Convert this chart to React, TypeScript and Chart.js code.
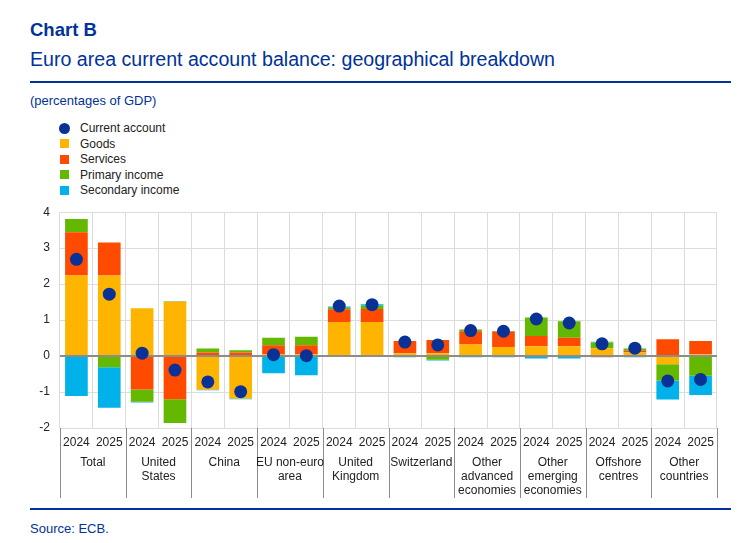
import React, { useEffect, useRef } from 'react';
import { Chart, registerables } from 'chart.js';
Chart.register(...registerables);

const groups: string[][] = [
  ['Total'],
  ['United', 'States'],
  ['China'],
  ['EU non-euro', 'area'],
  ['United', 'Kingdom'],
  ['Switzerland'],
  ['Other', 'advanced', 'economies'],
  ['Other', 'emerging', 'economies'],
  ['Offshore', 'centres'],
  ['Other', 'countries'],
];
const years = ['2024', '2025'];
const categories: string[] = groups.flatMap(() => years);

const goods = [2.24, 2.24, 1.33, 1.52, -0.93, -1.18, 0.06, 0.05, 0.95, 0.95, 0.08, 0.08, 0.32, 0.25, 0.27, 0.27, 0.22, 0.1, -0.23, 0.05];
const services = [1.2, 0.92, -0.93, -1.2, 0.1, 0.1, 0.24, 0.25, 0.35, 0.36, 0.34, 0.37, 0.37, 0.43, 0.29, 0.24, -0.03, 0.05, 0.47, 0.37];
const primaryIncome = [0.37, -0.31, -0.34, -0.66, 0.11, 0.06, 0.21, 0.24, 0.04, 0.09, 0.0, -0.1, 0.05, 0.02, 0.51, 0.46, 0.16, 0.06, -0.45, -0.55];
const secondaryIncome = [-1.11, -1.13, -0.02, 0.01, -0.02, -0.02, -0.48, -0.53, 0.04, 0.04, -0.03, -0.02, -0.03, -0.03, -0.07, -0.07, 0.02, -0.03, -0.53, -0.53];
const currentAccount = [2.69, 1.72, 0.08, -0.39, -0.72, -0.99, 0.04, 0.01, 1.39, 1.43, 0.39, 0.31, 0.71, 0.69, 1.03, 0.92, 0.34, 0.22, -0.69, -0.65];
const yTicks = [-2, -1, 0, 1, 2, 3, 4];

const BLUE = '#003299';
const COLORS = {
  current: '#0a3296',
  goods: '#ffb400',
  services: '#ff4b00',
  primary: '#65b800',
  secondary: '#00b1ea',
};
const FONT = '"Liberation Sans", Arial, sans-serif';

const legendItems = [
  { label: 'Current account', color: COLORS.current, round: true },
  { label: 'Goods', color: COLORS.goods, round: false },
  { label: 'Services', color: COLORS.services, round: false },
  { label: 'Primary income', color: COLORS.primary, round: false },
  { label: 'Secondary income', color: COLORS.secondary, round: false },
];

const zeroLinePlugin = {
  id: 'zeroLine',
  beforeDatasetDraw(chart: any, args: any) {
    if (args.index !== 0) return;
    const { ctx, chartArea, scales } = chart;
    const y = Math.round(scales.y.getPixelForValue(0));
    ctx.save();
    ctx.strokeStyle = '#8c8c8c';
    ctx.lineWidth = 2;
    ctx.beginPath();
    ctx.moveTo(chartArea.left, y);
    ctx.lineTo(chartArea.right, y);
    ctx.stroke();
    ctx.restore();
  },
};

const groupPlugin = {
  id: 'groupLabels',
  afterDraw(chart: any) {
    const { ctx, chartArea } = chart;
    const slot = (chartArea.right - chartArea.left) / categories.length;
    ctx.save();
    ctx.strokeStyle = '#8a8a8a';
    ctx.lineWidth = 1;
    for (let g = 0; g <= groups.length; g++) {
      const x = Math.round(chartArea.left + g * 2 * slot) + 0.5;
      ctx.beginPath();
      ctx.moveTo(x, chartArea.bottom);
      ctx.lineTo(x, chartArea.bottom + 70);
      ctx.stroke();
    }
    ctx.fillStyle = '#222';
    ctx.font = '12px ' + FONT;
    ctx.textAlign = 'center';
    ctx.textBaseline = 'middle';
    groups.forEach((lines, g) => {
      const cx = chartArea.left + (g * 2 + 1) * slot;
      lines.forEach((t, i) => {
        ctx.fillText(t, cx, chartArea.bottom + 35 + i * 14);
      });
    });
    ctx.restore();
  },
};

function ChartCanvas() {
  const ref = useRef<HTMLCanvasElement>(null);
  useEffect(() => {
    if (!ref.current) return;
    const barBase = { type: 'bar' as const, barPercentage: 0.69, categoryPercentage: 1, borderWidth: 0 };
    const chart = new Chart(ref.current, {
      type: 'bar',
      data: {
        labels: categories,
        datasets: [
          {
            type: 'line' as any,
            label: 'Current account',
            data: currentAccount,
            showLine: false,
            pointRadius: 6.5,
            pointBackgroundColor: COLORS.current,
            pointBorderWidth: 0,
            backgroundColor: COLORS.current,
            stack: 'ca',
          } as any,
          { ...barBase, label: 'Goods', data: goods, backgroundColor: COLORS.goods, stack: 'bars' },
          { ...barBase, label: 'Services', data: services, backgroundColor: COLORS.services, stack: 'bars' },
          { ...barBase, label: 'Primary income', data: primaryIncome, backgroundColor: COLORS.primary, stack: 'bars' },
          { ...barBase, label: 'Secondary income', data: secondaryIncome, backgroundColor: COLORS.secondary, stack: 'bars' },
        ],
      },
      options: {
        responsive: false,
        animation: false,
        devicePixelRatio: 1,
        layout: { padding: { top: 17, right: 23, bottom: 7, left: 0 } },
        plugins: { legend: { display: false }, tooltip: { enabled: false } },
        scales: {
          x: {
            stacked: true,
            offset: true,
            grid: { offset: true, color: '#dcdcdc', lineWidth: 1, drawTicks: false },
            border: { display: false },
            ticks: { color: '#222', font: { size: 12, family: FONT }, padding: 7, maxRotation: 0, autoSkip: false },
            afterFit: (s: any) => { s.height = 70; },
          },
          y: {
            stacked: true,
            min: yTicks[0],
            max: yTicks[yTicks.length - 1],
            afterBuildTicks: (s: any) => { s.ticks = yTicks.map((v) => ({ value: v })); },
            grid: { color: '#dcdcdc', lineWidth: 1, drawTicks: false },
            border: { display: false },
            ticks: { color: '#222', font: { size: 12, family: FONT }, padding: 10 },
            afterFit: (s: any) => { s.width = 40; },
          },
        },
      },
      plugins: [zeroLinePlugin, groupPlugin],
    } as any);
    return () => chart.destroy();
  }, []);
  return <canvas ref={ref} width={720} height={310} style={{ position: 'absolute', left: 20, top: 195, width: 720, height: 310 }} />;
}

export default function App() {
  const abs = (left: number, top: number): React.CSSProperties => ({ position: 'absolute', left, top, margin: 0, whiteSpace: 'nowrap' });
  return (
    <div style={{ fontFamily: FONT }}>
      <div style={{ ...abs(30, 19), color: BLUE, fontWeight: 'bold', fontSize: 18.5 }}>Chart B</div>
      <div style={{ ...abs(30, 48), color: BLUE, fontSize: 19.6 }}>Euro area current account balance: geographical breakdown</div>
      <div style={{ position: 'absolute', left: 30, top: 81, width: 701, height: 1.5, background: BLUE }} />
      <div style={{ ...abs(30, 93), color: BLUE, fontSize: 13 }}>(percentages of GDP)</div>
      {legendItems.map((it, i) => (
        <div key={it.label} style={{ ...abs(59, 121 + i * 15.5), display: 'flex', alignItems: 'center', fontSize: 12, color: '#222', height: 14 }}>
          <span style={{ display: 'inline-block', width: it.round ? 11 : 9, height: it.round ? 11 : 9, borderRadius: it.round ? '50%' : 0, background: it.color, marginLeft: it.round ? 0 : 1, marginRight: it.round ? 10 : 11 }} />
          <span>{it.label}</span>
        </div>
      ))}
      <ChartCanvas />
      <div style={{ position: 'absolute', left: 30, top: 508, width: 701, height: 1.5, background: BLUE }} />
      <div style={{ ...abs(30, 521), color: BLUE, fontSize: 13 }}>Source: ECB.</div>
    </div>
  );
}
